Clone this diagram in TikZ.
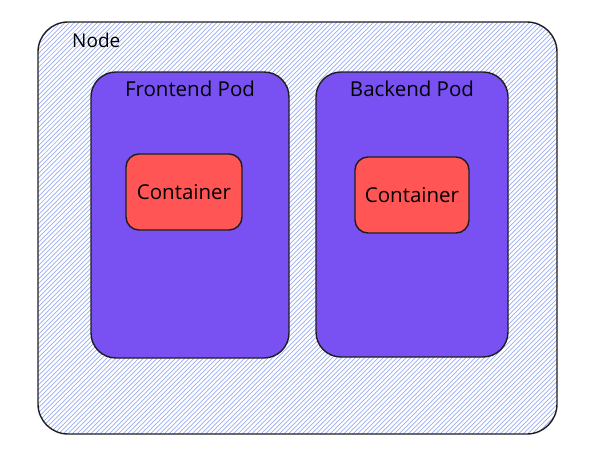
\documentclass[tikz,border=0pt]{standalone}
\usepackage{fontspec}
\setmainfont{Open Sans}
\definecolor{stroke}{HTML}{1E1E1E}
\definecolor{podfill}{HTML}{7950F2}
\definecolor{ctrfill}{HTML}{FF5555}
\definecolor{hatch}{HTML}{9AABF3}
\begin{document}
\begin{tikzpicture}[x=1pt,y=-1pt,
  box/.style={draw=stroke,line width=1.4pt},
  lbl/.style={font=\fontsize{20.5}{24}\selectfont,text=black,inner sep=0pt}]
\useasboundingbox (0,0) rectangle (600,461);
% Node outer box with hatch
\begin{scope}
  \clip[rounded corners=30pt] (38,22) rectangle (557,434);
  \foreach \i in {-470,-465.4,...,600} {
    \draw[hatch,line width=0.7pt] (\i,461) -- (\i+461,0);
  }
\end{scope}
\draw[box,rounded corners=30pt] (38,22) rectangle (557,434);
\node[lbl,font=\fontsize{19}{22}\selectfont,anchor=west] (nodelbl) at (72,40) {Node};
% Pods
\draw[box,fill=podfill,rounded corners=25pt] (91,72) rectangle (289,358);
\draw[box,fill=podfill,rounded corners=25pt] (316,72) rectangle (508,357);
\node[lbl] (fpod) at (190,89) {Frontend Pod};
\node[lbl] (bpod) at (412,89) {Backend Pod};
% Containers
\node[box,fill=ctrfill,rounded corners=13pt,minimum width=116pt,minimum height=76pt,lbl] (c1) at (184,192) {Container};
\node[box,fill=ctrfill,rounded corners=13pt,minimum width=114pt,minimum height=76pt,lbl] (c2) at (412,195) {Container};
\end{tikzpicture}
\end{document}
